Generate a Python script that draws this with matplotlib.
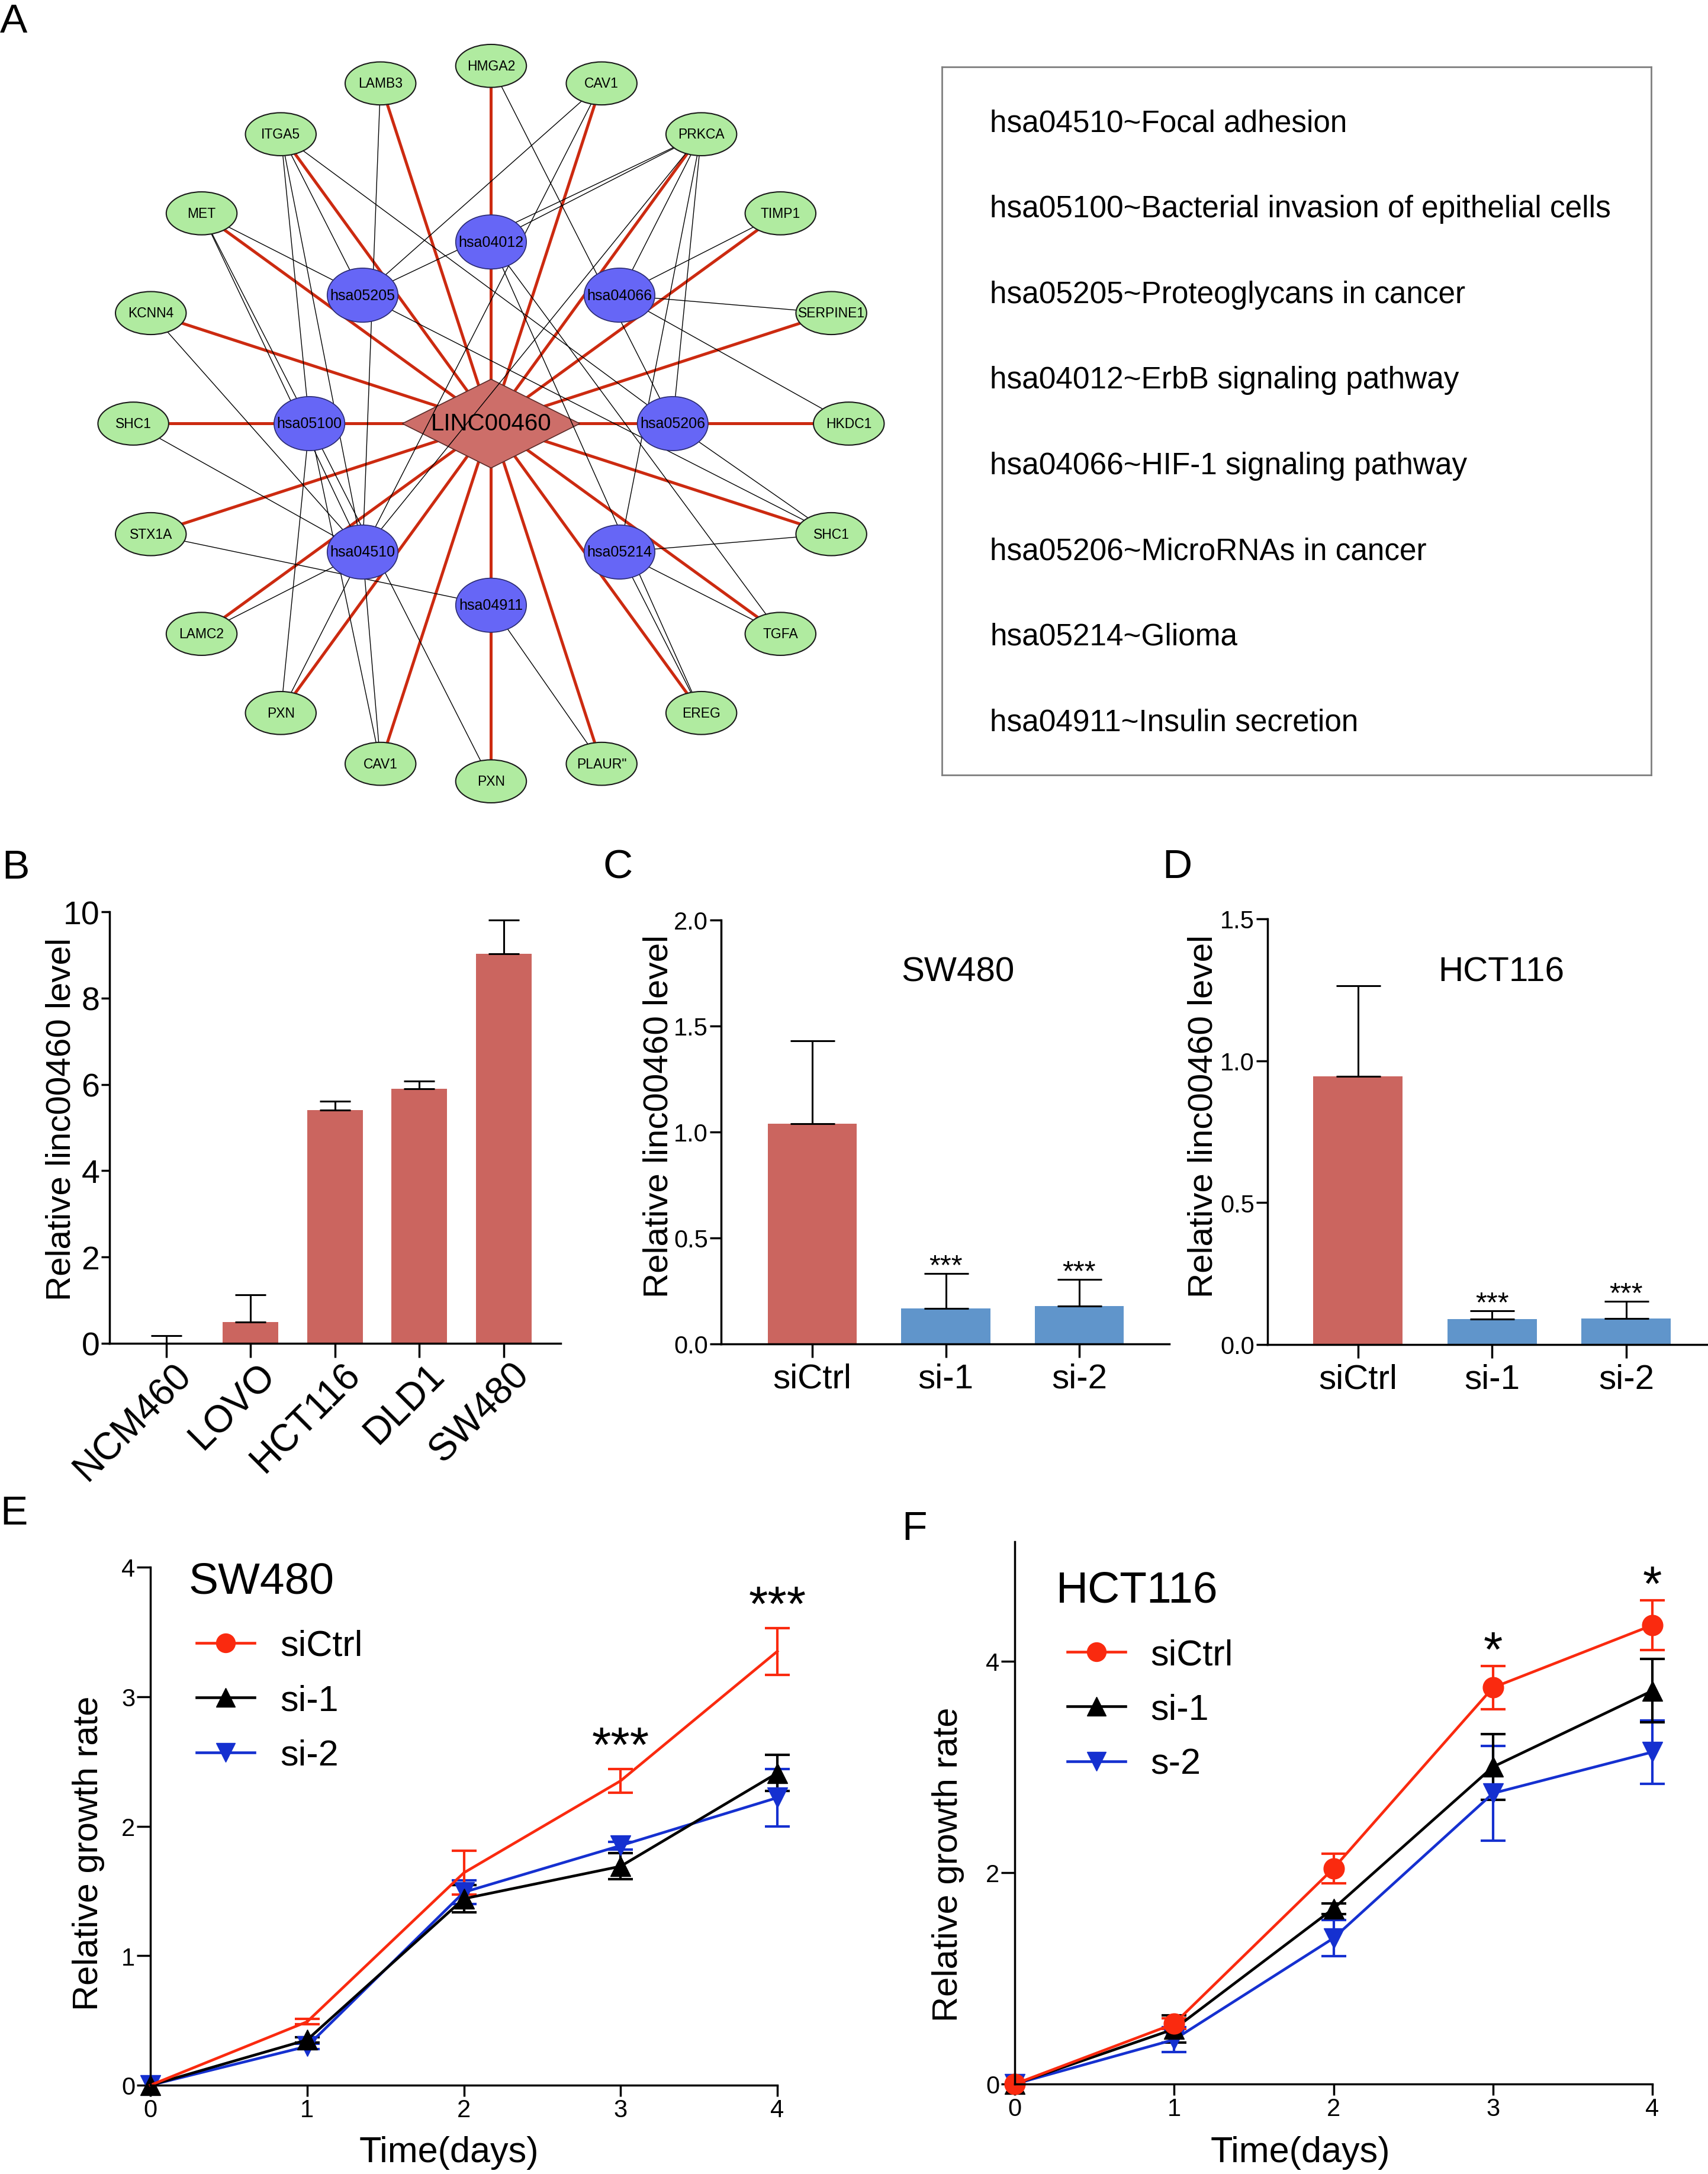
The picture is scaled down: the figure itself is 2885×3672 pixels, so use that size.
import numpy as np
import matplotlib
matplotlib.use('Agg')
import matplotlib.pyplot as plt
import matplotlib.transforms as mtransforms
from matplotlib.patches import Ellipse, Polygon
from matplotlib.lines import Line2D

plt.rcParams['font.family'] = ['Liberation Sans', 'DejaVu Sans']

W, H = 2885, 3673

# ---------------- data ----------------
# network (A): genes on the outer ring, clockwise from the top
gene_nodes = ['HMGA2', 'CAV1', 'PRKCA', 'TIMP1', 'SERPINE1', 'HKDC1', 'SHC1', 'TGFA',
              'EREG', 'PLAUR"', 'PXN', 'CAV1', 'PXN', 'LAMC2', 'STX1A', 'SHC1',
              'KCNN4', 'MET', 'ITGA5', 'LAMB3']
# pathways on the inner ring, clockwise from the top
pathway_nodes = ['hsa04012', 'hsa04066', 'hsa05206', 'hsa05214',
                 'hsa04911', 'hsa04510', 'hsa05100', 'hsa05205']
# gene index (in gene_nodes) linked to each pathway
pathway_links = {
    'hsa04012': [2, 7, 8],
    'hsa04066': [2, 3, 4, 5],
    'hsa05206': [0, 2, 6, 18],
    'hsa05214': [2, 6, 7, 8],
    'hsa04911': [9, 14],
    'hsa04510': [1, 2, 11, 12, 13, 15, 16, 17, 18, 19],
    'hsa05100': [10, 11, 12, 17, 18],
    'hsa05205': [1, 2, 6, 17, 18],
}
pathway_terms = ['hsa04510~Focal adhesion',
                 'hsa05100~Bacterial invasion of epithelial cells',
                 'hsa05205~Proteoglycans in cancer',
                 'hsa04012~ErbB signaling pathway',
                 'hsa04066~HIF-1 signaling pathway',
                 'hsa05206~MicroRNAs in cancer',
                 'hsa05214~Glioma',
                 'hsa04911~Insulin secretion']

# B
cell_lines = ['NCM460', 'LOVO', 'HCT116', 'DLD1', 'SW480']
expr_mean = [0.0, 0.50, 5.40, 5.90, 9.02]
expr_err = [0.18, 0.63, 0.21, 0.17, 0.79]

# C / D
si_groups = ['siCtrl', 'si-1', 'si-2']
sw480_kd = [1.04, 0.167, 0.178]
sw480_kd_err = [0.39, 0.166, 0.127]
hct116_kd = [0.945, 0.089, 0.092]
hct116_kd_err = [0.32, 0.03, 0.061]
kd_sig = ['', '***', '***']

# E / F
days = [0, 1, 2, 3, 4]
sw_ctrl = [0, 0.49, 1.64, 2.35, 3.35]
sw_ctrl_err = [0, 0.02, 0.17, 0.09, 0.18]
sw_si1 = [0, 0.35, 1.44, 1.69, 2.41]
sw_si1_err = [0, 0.02, 0.105, 0.10, 0.14]
sw_si2 = [0, 0.30, 1.49, 1.85, 2.22]
sw_si2_err = [0, 0.02, 0.09, 0.03, 0.22]
sw_sig = ['', '', '', '***', '***']

hct_ctrl = [0, 0.57, 2.04, 3.75, 4.34]
hct_ctrl_err = [0, 0.05, 0.14, 0.205, 0.235]
hct_si1 = [0, 0.52, 1.66, 3.00, 3.72]
hct_si1_err = [0, 0.13, 0.05, 0.31, 0.30]
hct_si2 = [0, 0.42, 1.38, 2.75, 3.14]
hct_si2_err = [0, 0.12, 0.17, 0.45, 0.30]
hct_sig = ['', '', '', '*', '*']

bar_red = '#CB655F'
bar_blue = '#6095CB'
line_red = '#FA2A0F'
line_blue = '#1530D0'


def px_rect(x0, y0, x1, y1):
    return [x0 / W, 1 - y1 / H, (x1 - x0) / W, (y1 - y0) / H]


def style_axes(ax, ylen, xlen, size):
    for s in ['top', 'right']:
        ax.spines[s].set_visible(False)
    for s in ['left', 'bottom']:
        ax.spines[s].set_linewidth(2.5)
    ax.tick_params(direction='out', width=2.5, pad=2, labelsize=size)
    ax.tick_params(axis='y', length=ylen)
    ax.tick_params(axis='x', length=xlen)


fig = plt.figure(figsize=(W / 100, H / 100), dpi=100)

# ---------------- A: network ----------------
axn = fig.add_axes(px_rect(94, 35, 1593, 1405))
axn.set_xlim(40, 680)
axn.set_ylim(600, 15)
axn.axis('off')
cx, cy = 354, 306
a_out = np.deg2rad(90 - 360 / len(gene_nodes) * np.arange(len(gene_nodes)))
gx = cx + 258 * np.cos(a_out)
gy = cy - 258 * np.sin(a_out)
a_in = np.deg2rad(90 - 360 / len(pathway_nodes) * np.arange(len(pathway_nodes)))
px_ = cx + 131 * np.cos(a_in)
py_ = cy - 131 * np.sin(a_in)

for i in range(len(gene_nodes)):
    axn.plot([cx, gx[i]], [cy, gy[i]], color='#CC2A10', lw=3.6, zorder=1)
for j, p in enumerate(pathway_nodes):
    for g in pathway_links[p]:
        axn.plot([px_[j], gx[g]], [py_[j], gy[g]], color='black', lw=1.0, zorder=3)

diamond = Polygon([[cx - 64, cy], [cx, cy - 32], [cx + 64, cy], [cx, cy + 32]],
                  closed=True, facecolor='#CD6E69', edgecolor='#5a2a28', lw=1.2, zorder=2)
axn.add_patch(diamond)
axn.text(cx, cy, 'LINC00460', ha='center', va='center', fontsize=29, zorder=6)

for i, name in enumerate(gene_nodes):
    axn.add_patch(Ellipse((gx[i], gy[i]), 51, 31, facecolor='#B0EBA0',
                          edgecolor='#1a1a1a', lw=1.5, zorder=4))
    axn.text(gx[i], gy[i], name, ha='center', va='center', fontsize=16.5, zorder=6)
for j, name in enumerate(pathway_nodes):
    axn.add_patch(Ellipse((px_[j], py_[j]), 51, 39, facecolor='#6666F6',
                          edgecolor='#2a2a70', lw=1.2, zorder=4))
    axn.text(px_[j], py_[j], name, ha='center', va='center', fontsize=18, zorder=6)

# legend box
axl = fig.add_axes(px_rect(1591, 114, 2789, 1310))
axl.set_xticks([])
axl.set_yticks([])
for s in axl.spines.values():
    s.set_color('#7f7f7f')
    s.set_linewidth(2)
axl.set_xlim(0, 1)
axl.set_ylim(len(pathway_terms) - 1 + 0.616, -0.657)
for i, t in enumerate(pathway_terms):
    axl.text(0.068, i, t, ha='left', va='center', fontsize=37)

# ---------------- B ----------------
axb = fig.add_axes(px_rect(185, 1541, 947, 2270))
xb = np.arange(len(cell_lines))
axb.bar(xb, expr_mean, width=0.66, color=bar_red, zorder=2)
axb.errorbar(xb, expr_mean, yerr=[np.zeros(len(xb)), expr_err], fmt='none', ecolor='black',
             elinewidth=2.2, capsize=18.7, capthick=2.2, zorder=3)
axb.set_xlim(-0.671, 4.676)
axb.set_ylim(0, 10)
axb.set_yticks([0, 2, 4, 6, 8, 10])
axb.set_xticks(xb)
axb.set_xticklabels(cell_lines, rotation=45, ha='right', va='center',
                    rotation_mode='anchor', fontsize=46)
style_axes(axb, 10, 17, 40)
axb.tick_params(axis='x', labelsize=46, pad=14)
shift = mtransforms.ScaledTranslation(0.33, 0, fig.dpi_scale_trans)
for lab in axb.get_xticklabels():
    lab.set_transform(lab.get_transform() + shift)
axb.set_ylabel('Relative linc00460 level', fontsize=42)
axb.yaxis.set_label_coords(-0.072, 0.52)


# ---------------- C / D ----------------
def kd_panel(rect, vals, errs, xlim, ylim, yticks, ytl, title, tpos):
    ax = fig.add_axes(px_rect(*rect))
    x = np.arange(len(si_groups))
    ax.bar(x, vals, width=0.667, color=[bar_red, bar_blue, bar_blue], zorder=2)
    ax.errorbar(x, vals, yerr=[np.zeros(len(x)), errs], fmt='none', ecolor='black',
                elinewidth=2.2, capsize=27, capthick=2.2, zorder=3)
    for i, s in enumerate(kd_sig):
        ax.text(x[i], vals[i] + errs[i], s, ha='center', va='baseline', fontsize=35)
    ax.set_xlim(*xlim)
    ax.set_ylim(*ylim)
    ax.set_yticks(yticks)
    ax.set_yticklabels(ytl)
    ax.set_xticks(x)
    ax.set_xticklabels(si_groups)
    style_axes(ax, 14, 16.5, 30)
    ax.tick_params(axis='x', labelsize=42, pad=6)
    ax.text(tpos[0], tpos[1], title, ha='center', va='center', fontsize=42)
    ax.set_ylabel('Relative linc00460 level', fontsize=42)
    return ax


axc = kd_panel((1218, 1555, 1975, 2271), sw480_kd, sw480_kd_err, (-0.683, 2.674), (0, 2),
               [0, 0.5, 1.0, 1.5, 2.0], ['0.0', '0.5', '1.0', '1.5', '2.0'], 'SW480', (1.09, 1.756))
axc.yaxis.set_label_coords(-0.104, 0.538)
axd = kd_panel((2141, 1553, 2885, 2272), hct116_kd, hct116_kd_err, (-0.675, 2.61), (0, 1.5),
               [0, 0.5, 1.0, 1.5], ['0.0', '0.5', '1.0', '1.5'], 'HCT116', (1.07, 1.314))
axd.yaxis.set_label_coords(-0.109, 0.538)


# ---------------- E / F ----------------
def growth_panel(rect, ctrl, ctrl_err, si1, si1_err, si2, si2_err, sig, ylim, yticks,
                 ctrl_marker, title, tpos, labels, leg_anchor, ylab_xy, xlab_xy, star_gap):
    ax = fig.add_axes(px_rect(*rect))
    series = [(si2, si2_err, line_blue, 'v'), (si1, si1_err, 'black', '^'),
              (ctrl, ctrl_err, line_red, ctrl_marker)]
    for vals, errs, c, m in series:
        e = np.array(errs, dtype=float)
        e[e == 0] = np.nan
        cont = ax.errorbar(days, vals, yerr=e, color=c, lw=3.3, marker=m, ms=25,
                           capsize=15, capthick=3.0, elinewidth=3.0)
        for art in cont.get_children():
            art.set_clip_on(False)
    for i, s in enumerate(sig):
        if s:
            ax.text(days[i], ctrl[i] + ctrl_err[i] + star_gap, s, ha='center', va='baseline',
                    fontsize=60)
    ax.set_xlim(0, 4)
    ax.set_ylim(*ylim)
    ax.set_yticks(yticks)
    ax.set_xticks(days)
    style_axes(ax, 16.5, 14, 30)
    ax.text(tpos[0], tpos[1], title, ha='left', va='center', fontsize=54)
    handles = [Line2D([], [], color=line_red, marker='o', ms=23, lw=3.3),
               Line2D([], [], color='black', marker='^', ms=23, lw=3.3),
               Line2D([], [], color=line_blue, marker='v', ms=23, lw=3.3)]
    ax.legend(handles, labels, loc='upper left', bbox_to_anchor=leg_anchor, frameon=False,
              fontsize=44, handlelength=1.6, handletextpad=0.7, labelspacing=0.58,
              borderpad=0, borderaxespad=0)
    ax.set_ylabel('Relative growth rate', fontsize=43)
    ax.yaxis.set_label_coords(*ylab_xy)
    ax.set_xlabel('Time(days)', fontsize=44)
    ax.xaxis.set_label_coords(*xlab_xy)
    return ax


growth_panel((254, 2648, 1313, 3523), sw_ctrl, sw_ctrl_err, sw_si1, sw_si1_err, sw_si2, sw_si2_err,
             sw_sig, (0, 4), [0, 1, 2, 3, 4], 'None', 'SW480', (0.245, 3.89),
             ['siCtrl', 'si-1', 'si-2'], (0.074, 0.88), (-0.073, 0.449), (0.476, -0.097), 0.06)
growth_panel((1714, 2605, 2791, 3521), hct_ctrl, hct_ctrl_err, hct_si1, hct_si1_err, hct_si2, hct_si2_err,
             hct_sig, (0, 5.13), [0, 2, 4], 'o', 'HCT116', (0.26, 4.67),
             ['siCtrl', 'si-1', 's-2'], (0.0825, 0.822), (-0.079, 0.406), (0.448, -0.095), 0.0)

# panel letters
for letter, x, y in [('A', 0, 55), ('B', 3, 1484), ('C', 1018, 1483), ('D', 1963, 1483),
                     ('E', 0, 2575), ('F', 1523, 2601)]:
    fig.text(x / W, 1 - y / H, letter, fontsize=50, ha='left', va='baseline')

fig.savefig('out.png', dpi=100)
